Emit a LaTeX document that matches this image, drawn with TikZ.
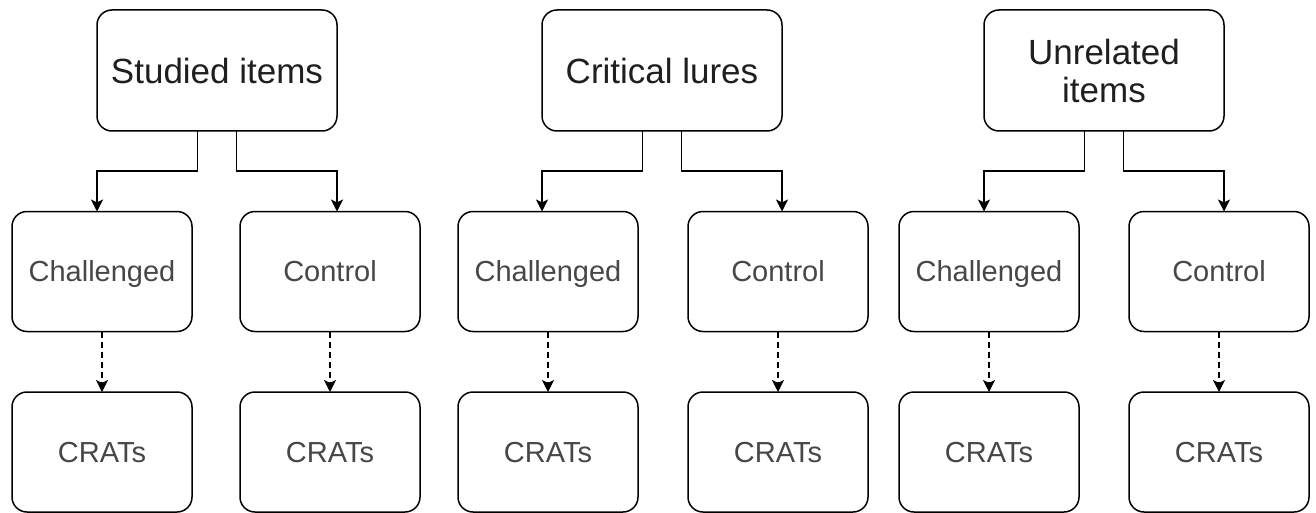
\documentclass[tikz,border=0pt]{standalone}
\usepackage{fontspec}
\setmainfont{Liberation Sans}
\usetikzlibrary{arrows.meta}
\begin{document}
\begin{tikzpicture}[x=1pt,y=-1pt,
  box/.style={draw=black,line width=1.5pt,rounded corners=15pt,outer sep=0pt,inner sep=0pt},
  topbox/.style={box,minimum width=240pt,minimum height=121pt,font=\fontsize{35}{38}\selectfont,text=black!88,align=center},
  subbox/.style={box,minimum width=180pt,minimum height=120pt,font=\fontsize{29}{32}\selectfont,text=black!72,text height=20.8pt,text depth=0pt},
  arr/.style={line width=1.5pt,-{Stealth[length=12pt,width=12pt,inset=3pt]}},
  darr/.style={arr,dash pattern=on 6pt off 4pt}]
\useasboundingbox (0,0) rectangle (1316,513);
% top boxes
\node[topbox] (s1) at (217,70.5) {Studied items};
\node[topbox] (s2) at (662,70.5) {Critical lures};
\node[topbox] (s3) at (1104,70.5) {Unrelated\\items};
% middle row
\node[subbox] (c1) at (102,271.5) {Challenged};
\node[subbox] (k1) at (330,271.5) {Control};
\node[subbox] (c2) at (548,271.5) {Challenged};
\node[subbox] (k2) at (778,271.5) {Control};
\node[subbox] (c3) at (989,271.5) {Challenged};
\node[subbox] (k3) at (1219,271.5) {Control};
% bottom row
\node[subbox] (r1) at (102,452) {CRATs};
\node[subbox] (r2) at (330,452) {CRATs};
\node[subbox] (r3) at (548,452) {CRATs};
\node[subbox] (r4) at (778,452) {CRATs};
\node[subbox] (r5) at (989,452) {CRATs};
\node[subbox] (r6) at (1219,452) {CRATs};
% solid connectors
\foreach \s/\c/\k in {s1/c1/k1,s2/c2/k2,s3/c3/k3}{
  \draw[arr] ([xshift=-19.5pt]\s.south) -- ++(0,40) -| (\s.west |- \c.north);
  \draw[arr] ([xshift=19.5pt]\s.south) -- ++(0,40) -| (\s.east |- \k.north);
}
% dashed connectors
\foreach \a/\b in {c1/r1,k1/r2,c2/r3,k2/r4,c3/r5,k3/r6}{
  \draw[darr] (\a.south) -- (\b.north);
}
\end{tikzpicture}
\end{document}
